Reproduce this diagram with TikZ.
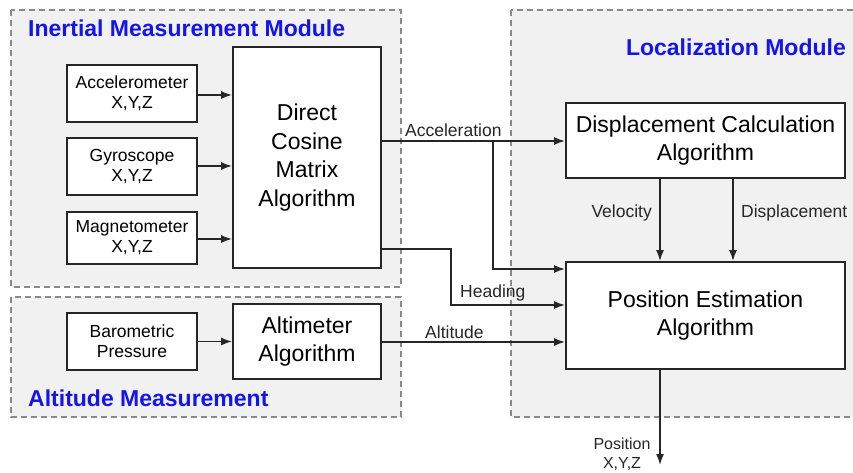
\documentclass[tikz,border=0pt]{standalone}
\usepackage{fontspec}
\setmainfont{Liberation Sans}
\usetikzlibrary{arrows.meta}
\definecolor{modfill}{HTML}{F1F1F1}
\definecolor{modline}{HTML}{8A8A8A}
\definecolor{titleblue}{HTML}{1414EE}
\definecolor{ink}{HTML}{262626}
\tikzset{
  module/.style={draw=modline, fill=modfill, line width=1.2pt, dash pattern=on 6pt off 4pt},
  modtitle/.style={text=titleblue, font=\fontsize{23}{27}\selectfont\bfseries, inner sep=0pt},
  sensor/.style={draw=ink, fill=white, line width=1.9pt, minimum width=130pt, minimum height=57pt,
    align=center, inner sep=0pt, font=\fontsize{17.5}{20}\selectfont},
  algo/.style={draw=ink, fill=white, line width=1.9pt, align=center, inner sep=0pt,
    font=\fontsize{23}{28.7}\selectfont},
  link/.style={draw=ink, line width=1.6pt, -{Latex[length=11pt,width=8pt]}},
  lbl/.style={inner sep=0pt, font=\fontsize{17.5}{22}\selectfont, text=ink, align=center}
}
\begin{document}
\begin{tikzpicture}[x=1pt,y=-1pt]
\useasboundingbox (0,0) rectangle (853,472);
\clip (0,0) rectangle (853,472);
\fill[white] (0,0) rectangle (853,472);

% module frames
\draw[module] (11,10) rectangle (401,287);
\draw[module] (11,297) rectangle (401,417);
\draw[module] (511,10) rectangle (870,417);

\node[modtitle, anchor=west] (imutitle) at (28,28) {Inertial Measurement Module};
\node[modtitle, anchor=west] (alttitle) at (28,398) {Altitude Measurement};
\node[modtitle, anchor=east] (loctitle) at (846,47) {Localization Module};

% sensors
\node[sensor] (acc) at (132,93.5) {Accelerometer\\X,Y,Z};
\node[sensor] (gyr) at (132,166.5) {Gyroscope\\X,Y,Z};
\node[sensor, minimum height=52pt] (mag) at (132,238) {Magnetometer\\X,Y,Z};
\node[sensor] (baro) at (132,341.5) {Barometric\\Pressure};

% algorithms
\node[algo, minimum width=148pt, minimum height=221pt] (dcm) at (307,157.5) {Direct\\Cosine\\Matrix\\Algorithm};
\node[algo, minimum width=148pt, minimum height=75pt] (alti) at (307,341.5) {Altimeter\\Algorithm};
\node[algo, minimum width=279pt, minimum height=75pt] (disp) at (705.5,140.5) {Displacement Calculation\\Algorithm};
\node[algo, minimum width=279pt, minimum height=107pt] (pos) at (705.5,315.5) {Position Estimation\\Algorithm};

% sensor inputs
\draw[link] (acc.east |- 0,95) -- (dcm.west |- 0,95);
\draw[link] (gyr.east |- 0,166) -- (dcm.west |- 0,166);
\draw[link] (mag.east |- 0,239) -- (dcm.west |- 0,239);
\draw[link] (baro) -- (alti);

% acceleration
\coordinate (accsplit) at (493,141);
\draw[link] (dcm.east |- accsplit) -- (disp.west |- accsplit);
\draw[link] (accsplit) -- (493,269) -- (pos.west |- 0,269);
\node[lbl, anchor=south west] (acclbl) at (405,137) {Acceleration};

% heading
\coordinate (hdbend) at (451,249);
\draw[link] (dcm.east |- hdbend) -- (hdbend) -- (451,305) -- (pos.west |- 0,305);
\node[lbl, anchor=south west] (hdlbl) at (460,301) {Heading};

% altitude
\draw[link] (alti.east |- 0,342) -- (pos.west |- 0,342);
\node[lbl, anchor=south west] (altlbl) at (425,339) {Altitude};

% velocity and displacement
\draw[link] (disp.south -| 660,0) -- (pos.north -| 660,0);
\draw[link] (disp.south -| 733,0) -- (pos.north -| 733,0);
\node[lbl, anchor=east] (vellbl) at (652,213) {Velocity};
\node[lbl, anchor=west] (dsplbl) at (741,213) {Displacement};

% output
\coordinate (out) at (660,465);
\draw[link] (pos.south -| out) -- (out);
\node[lbl, font=\fontsize{16}{19}\selectfont, anchor=south] (poslbl) at (622,471) {Position\\X,Y,Z};
\end{tikzpicture}
\end{document}
